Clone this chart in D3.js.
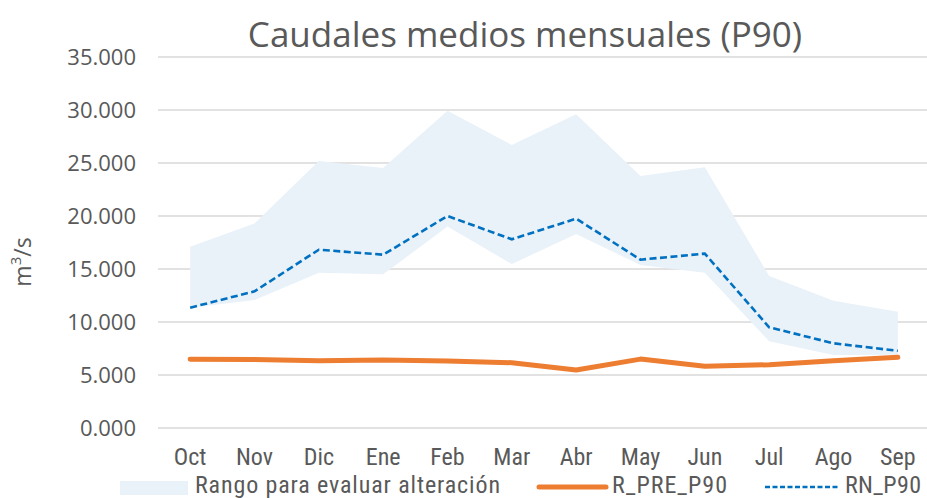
<!DOCTYPE html>
<html>
<head>
<meta charset="utf-8">
<script src="https://cdn.jsdelivr.net/npm/d3@7"></script>
<style>
  body { margin: 0; background: #fff; }
</style>
</head>
<body>
<div id="app"></div>
<script>
const width = 927
const height = 498
const margin = { top: 57, right: 0, bottom: 70, left: 158 }

const months = ["Oct", "Nov", "Dic", "Ene", "Feb", "Mar", "Abr", "May", "Jun", "Jul", "Ago", "Sep"]
const rangoMax = [17100, 19300, 25200, 24530, 29940, 26700, 29600, 23770, 24600, 14340, 12000, 10970]
const rangoMin = [11350, 12080, 14650, 14500, 19000, 15470, 18300, 15380, 14650, 8180, 6890, 6900]
const rPre = [6480, 6470, 6350, 6420, 6320, 6160, 5470, 6500, 5820, 5970, 6350, 6670]
const rn = [11350, 12890, 16820, 16350, 20000, 17800, 19750, 15880, 16450, 9500, 7990, 7280]
const yTicks = [0, 5000, 10000, 15000, 20000, 25000, 30000, 35000]

const narrow = "'Liberation Sans Narrow', 'Roboto Condensed', 'Liberation Sans', sans-serif"
const grey = "#595959"

const x = d3.scaleBand()
    .domain(months)
    .range([margin.left, 930])
    .padding(0)

const y = d3.scaleLinear()
    .domain([0, 35000])
    .range([428, margin.top])

const fmt = v => d3.format(".3f")(v / 1000)

const svg = d3.select("#app").append("svg")
    .attr("width", width)
    .attr("height", height)
    .style("font-family", "'Open Sans', sans-serif")

// grid
svg.append("g")
    .selectAll("line")
    .data(yTicks)
    .join("line")
    .attr("x1", margin.left)
    .attr("x2", width)
    .attr("y1", d => y(d))
    .attr("y2", d => y(d))
    .attr("stroke", "#d9d9d9")
    .attr("stroke-width", 1.5)

// y axis labels
const yAxis = d3.axisLeft(y).tickValues(yTicks).tickFormat(fmt).tickSize(0).tickPadding(22)
svg.append("g")
    .attr("transform", `translate(${margin.left}, 0)`)
    .call(yAxis)
    .call(g => g.select(".domain").remove())
    .call(g => g.selectAll("text")
        .attr("fill", grey)
        .attr("font-size", 22)
        .attr("font-family", "'Open Sans', sans-serif"))

// x axis labels
const xAxis = d3.axisBottom(x).tickSize(0).tickPadding(20)
svg.append("g")
    .attr("transform", `translate(0, 428)`)
    .call(xAxis)
    .call(g => g.select(".domain").remove())
    .call(g => g.selectAll("text")
        .attr("fill", grey)
        .attr("font-size", 24)
        .attr("font-family", narrow))

const cx = d => x(d) + x.bandwidth() / 2
const rows = months.map((m, i) => ({ m, lo: rangoMin[i], hi: rangoMax[i], pre: rPre[i], rn: rn[i] }))

// range area
svg.append("path")
    .datum(rows)
    .attr("fill", "#e9f1f9")
    .attr("d", d3.area()
        .x(d => cx(d.m))
        .y0(d => y(d.lo))
        .y1(d => y(d.hi)))

// R_PRE_P90
svg.append("path")
    .datum(rows)
    .attr("fill", "none")
    .attr("stroke", "#ed7d31")
    .attr("stroke-width", 5)
    .attr("stroke-linecap", "round")
    .attr("stroke-linejoin", "round")
    .attr("d", d3.line().x(d => cx(d.m)).y(d => y(d.pre)))

// RN_P90
svg.append("path")
    .datum(rows)
    .attr("fill", "none")
    .attr("stroke", "#0070c0")
    .attr("stroke-width", 2.6)
    .attr("stroke-dasharray", "7,3.5")
    .attr("d", d3.line().x(d => cx(d.m)).y(d => y(d.rn)))

// title
svg.append("text")
    .attr("x", 525)
    .attr("y", 47)
    .attr("text-anchor", "middle")
    .attr("fill", grey)
    .attr("font-size", 35)
    .text("Caudales medios mensuales (P90)")

// y axis title
svg.append("text")
    .attr("transform", "translate(31, 262) rotate(-90)")
    .attr("text-anchor", "middle")
    .attr("fill", grey)
    .attr("font-size", 23)
    .html('m<tspan baseline-shift="super" font-size="15">3</tspan>/s')

// legend
const legend = svg.append("g")
    .attr("font-family", narrow)
    .attr("font-size", 24)
    .attr("fill", grey)

legend.append("rect")
    .attr("x", 120).attr("y", 481).attr("width", 68).attr("height", 14)
    .attr("fill", "#e9f1f9")
legend.append("text").attr("x", 195).attr("y", 493).attr("textLength", 305).text("Rango para evaluar alteración")

legend.append("line")
    .attr("x1", 539).attr("x2", 606).attr("y1", 487).attr("y2", 487)
    .attr("stroke", "#ed7d31").attr("stroke-width", 5).attr("stroke-linecap", "round")
legend.append("text").attr("x", 612).attr("y", 493).attr("textLength", 115).text("R_PRE_P90")

legend.append("line")
    .attr("x1", 765).attr("x2", 840).attr("y1", 487).attr("y2", 487)
    .attr("stroke", "#0070c0").attr("stroke-width", 2.5).attr("stroke-dasharray", "5,2.5")
legend.append("text").attr("x", 845).attr("y", 493).attr("textLength", 76).text("RN_P90")
</script>
</body>
</html>
